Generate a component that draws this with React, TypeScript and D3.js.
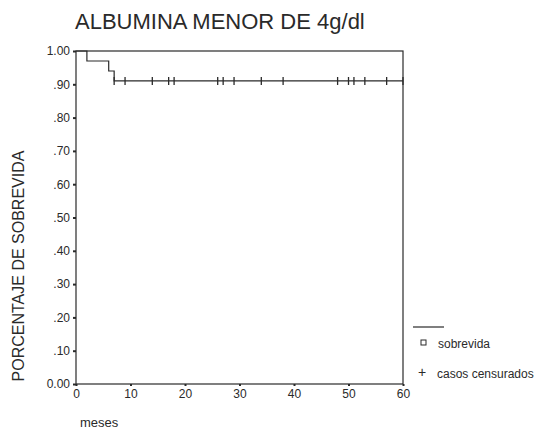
import React, { useEffect, useRef } from 'react';
import * as d3 from 'd3';

// survival steps (month, survival after the event)
const eventMonths = [2, 6, 7];
const eventSurvival = [0.97, 0.94, 0.91];
// censored cases (month)
const censoredMonths = [7, 9, 14, 17, 18, 26, 27, 29, 34, 38, 48, 50, 51, 53, 57, 60];
const xTicks = [0, 10, 20, 30, 40, 50, 60];
const yTicks = [0, 0.1, 0.2, 0.3, 0.4, 0.5, 0.6, 0.7, 0.8, 0.9, 1.0];

const fmtY = (v: number) => (v === 0 ? '0.00' : v === 1 ? '1.00' : d3.format('.2f')(v).replace(/^0/, ''));

const App = () => {
    const svgRef = useRef<SVGSVGElement>(null);

    useEffect(() => {
        const width = 549;
        const height = 448;
        const margin = { left: 76, right: 146, top: 51, bottom: 64 };
        const svg = d3.select(svgRef.current);
        svg.selectAll('*').remove();
        svg.attr('width', width).attr('height', height);

        const font = 'Liberation Sans, Arial, sans-serif';
        const ink = '#2a2a2a';

        const x = d3.scaleLinear().domain([0, 60]).range([margin.left, width - margin.right]);
        const y = d3.scaleLinear().domain([0, 1]).range([height - margin.bottom, margin.top]);

        // title
        svg.append('text')
            .attr('x', 75)
            .attr('y', 29)
            .style('font-family', font)
            .style('font-size', '22px')
            .style('fill', ink)
            .text('ALBUMINA MENOR DE 4g/dl');

        // frame
        svg.append('rect')
            .attr('x', x(0))
            .attr('y', y(1))
            .attr('width', x(60) - x(0))
            .attr('height', y(0) - y(1))
            .attr('fill', 'none')
            .attr('stroke', ink)
            .attr('stroke-width', 1.2);

        // y axis
        const yAxis = svg.append('g')
            .attr('transform', `translate(${x(0)},0)`)
            .call(d3.axisLeft(y).tickValues(yTicks).tickFormat((d) => fmtY(+d)).tickSize(3).tickPadding(3));
        yAxis.select('.domain').remove();
        yAxis.selectAll('line').attr('stroke', ink).attr('stroke-width', 2);
        yAxis.selectAll('text').style('font-family', font).style('font-size', '12px').style('fill', ink);

        // x axis
        const xAxis = svg.append('g')
            .attr('transform', `translate(0,${y(0)})`)
            .call(d3.axisBottom(x).tickValues(xTicks).tickFormat(d3.format('d')).tickSize(2).tickPadding(3));
        xAxis.select('.domain').remove();
        xAxis.selectAll('line').attr('stroke', ink).attr('stroke-width', 2);
        xAxis.selectAll('text').style('font-family', font).style('font-size', '12px').style('fill', ink);

        // survival step line
        const pts: [number, number][] = [[0, 1]];
        eventMonths.forEach((m, i) => pts.push([m, eventSurvival[i]]));
        pts.push([60, eventSurvival[eventSurvival.length - 1]]);
        const line = d3.line<[number, number]>()
            .x((d) => x(d[0]))
            .y((d) => y(d[1]))
            .curve(d3.curveStepAfter);
        svg.append('path')
            .datum(pts)
            .attr('d', line)
            .attr('fill', 'none')
            .attr('stroke', ink)
            .attr('stroke-width', 1.2);

        // censored marks
        const survAt = (m: number) => {
            let s = 1;
            eventMonths.forEach((e, i) => { if (e <= m) s = eventSurvival[i]; });
            return s;
        };
        svg.append('g')
            .selectAll('line')
            .data(censoredMonths)
            .enter()
            .append('line')
            .attr('x1', (d) => x(d))
            .attr('x2', (d) => x(d))
            .attr('y1', (d) => y(survAt(d)) - 4)
            .attr('y2', (d) => y(survAt(d)) + 4)
            .attr('stroke', ink)
            .attr('stroke-width', 1.3);

        // y label
        svg.append('text')
            .attr('transform', `translate(24,266) rotate(-90)`)
            .attr('text-anchor', 'middle')
            .style('font-family', font)
            .style('font-size', '16px')
            .style('fill', ink)
            .text('PORCENTAJE DE SOBREVIDA');

        // x label
        svg.append('text')
            .attr('x', 80)
            .attr('y', 427)
            .style('font-family', font)
            .style('font-size', '13px')
            .style('fill', ink)
            .text('meses');

        // legend
        const lg = svg.append('g').style('font-family', font).style('font-size', '12px').style('fill', ink);
        lg.append('line').attr('x1', 413).attr('x2', 444).attr('y1', 327).attr('y2', 327)
            .attr('stroke', ink).attr('stroke-width', 1.2);
        lg.append('rect').attr('x', 421).attr('y', 340).attr('width', 5).attr('height', 5)
            .attr('fill', 'none').attr('stroke', ink).attr('stroke-width', 1);
        lg.append('text').attr('x', 438).attr('y', 348).text('sobrevida');
        lg.append('text').attr('x', 418).attr('y', 377).style('font-size', '14px').text('+');
        lg.append('text').attr('x', 437).attr('y', 378).text('casos censurados');
    }, []);

    return <svg ref={svgRef} style={{ position: 'absolute', left: 0, top: 0 }}></svg>;
};

export default App;
